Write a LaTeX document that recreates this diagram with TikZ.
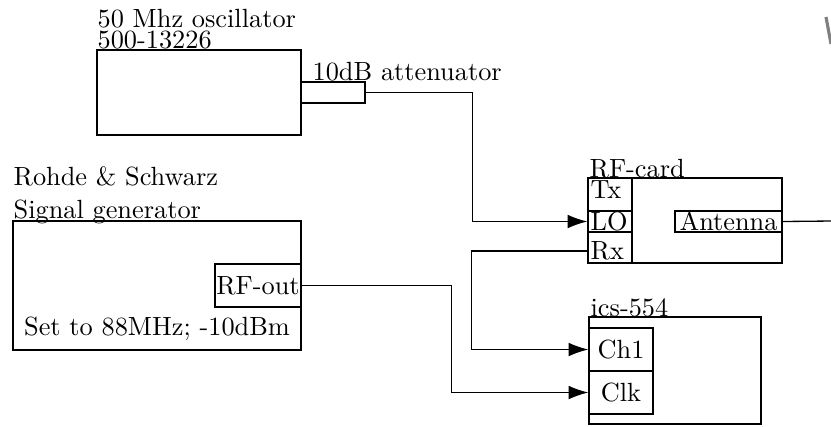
\documentclass[tikz,border=0pt]{standalone}
\usepackage{tikz}
\usetikzlibrary{arrows.meta, fit}

\begin{document}
\begin{tikzpicture}[x=0.38pt, y=-0.38pt, line width=0.5pt,
  box/.style={draw, rectangle, inner sep=0pt},
  lbl/.style={inner sep=0pt, anchor=base west},
  port/.style={inner sep=1pt},
  sig/.style={-{Latex[length=7.5pt, width=5.2pt]}}]
\useasboundingbox (0,0) rectangle (831,426);
% oscillator with attenuator
\node[box, fit={(97,50) (301,135)}] (osc) {};
\node[lbl] (osctitle) at (97,27) {50 Mhz oscillator};
\node[lbl] (oscpart) at (97,48) {500-13226};
\node[box, fit={(301,82) (365,103)}] (att) {};
\node[lbl] (attlbl) at (312,80) {10dB attenuator};
% signal generator
\node[box, fit={(13,221) (301,350)}] (gen) {};
\node[lbl] (gentitle) at (13,185) {Rohde \& Schwarz};
\node[lbl] (gentype) at (13,218) {Signal generator};
\node[box, fit={(215,264) (301,307)}] (rfout) {};
\node (rfouttxt) at (rfout.center) {RF-out};
\node[anchor=base] (genset) at (157,335) {Set to 88MHz; -10dBm};
% RF-card
\node[box, fit={(588,178) (782,263)}] (rfcard) {};
\node[lbl] (rflbl) at (589,177) {RF-card};
\node[box, fit={(588,178) (632,211)}] (txbox) {};
\node[box, fit={(588,211) (632,232)}] (lo) {};
\node[box, fit={(588,232) (632,263)}] (rxbox) {};
\node[port, anchor=north west] (tx) at (txbox.north west) {Tx};
\node[port, anchor=west] (lotxt) at (lo.west) {LO};
\node[port, anchor=south west] (rx) at (rxbox.south west) {Rx};
\node[box, fit={(675,211) (782,232)}] (ant) {};
\node (anttxt) at (ant.center) {Antenna};
% ics-554
\node[box, fit={(589,317) (761,424)}] (ics) {};
\node[lbl] (icslbl) at (590,316) {ics-554};
\node[box, fit={(589,328) (653,371)}] (ch1) {};
\node[box, fit={(589,371) (653,414)}] (clk) {};
\node (ch1txt) at (ch1.center) {Ch1};
\node (clktxt) at (clk.center) {Clk};
% wiring
\draw[sig] (att.east) -- ++(107,0) |- (lo.west);
\draw[sig] (rx.west) -- ++(-116,0) |- (ch1.west);
\draw[sig] (rfout.east) -- ++(150,0) |- (clk.west);
\coordinate (edge) at (831,221);
\draw (ant.east) -- (edge);
\draw[gray, line width=1.2pt] (826,17) -- (831,44);
\end{tikzpicture}
\end{document}
